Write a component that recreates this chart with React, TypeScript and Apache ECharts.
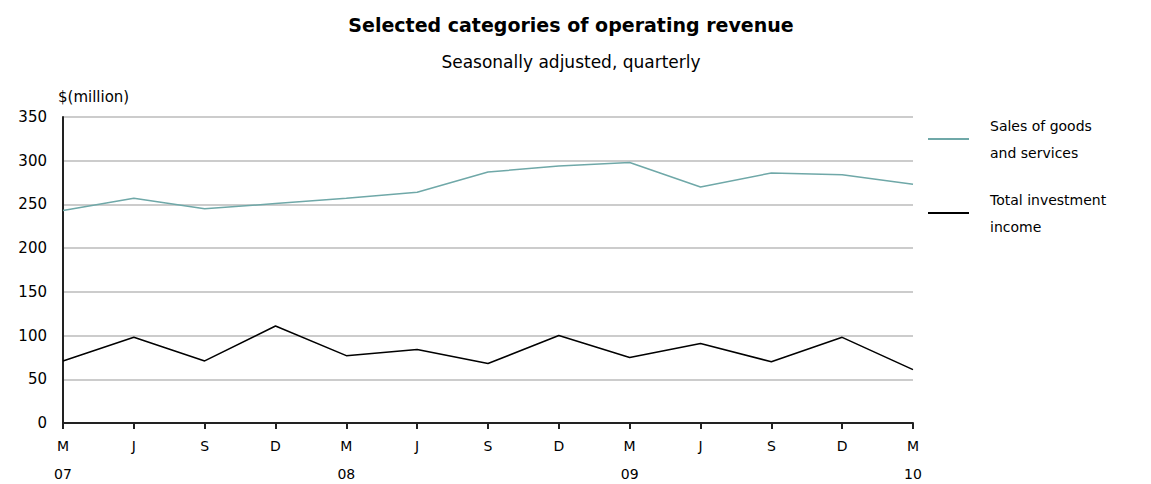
import React, { useEffect, useRef } from "react";
import * as echarts from "echarts";

const categories = ["M", "J", "S", "D", "M", "J", "S", "D", "M", "J", "S", "D", "M"];
const yearLabels = ["07", "", "", "", "08", "", "", "", "09", "", "", "", "10"];
const salesValues = [243, 257, 245, 251, 257, 264, 287, 294, 298, 270, 286, 284, 273];
const investmentValues = [71, 98, 71, 111, 77, 84, 68, 100, 75, 91, 70, 98, 61];
const seriesNames = ["Sales of goods and services", "Total investment income"];
const legendLabels: Record<string, string> = {
  "Sales of goods and services": "Sales of goods\nand services",
  "Total investment income": "Total investment\nincome",
};

export default function App() {
  const ref = useRef<HTMLDivElement>(null);
  useEffect(() => {
    if (!ref.current) return;
    const chart = echarts.init(ref.current, null, { renderer: "svg" });
    const font = "DejaVu Sans";
    chart.setOption({
      animation: false,
      backgroundColor: "#ffffff",
      title: {
        text: "Selected categories of operating revenue",
        subtext: "Seasonally adjusted, quarterly",
        left: 566,
        textAlign: "center",
        top: 10,
        itemGap: 19,
        textStyle: { fontFamily: font, fontSize: 19, fontWeight: "bold", color: "#000" },
        subtextStyle: { fontFamily: font, fontSize: 17, color: "#000" },
      },
      graphic: [
        {
          type: "text",
          left: 58,
          top: 89,
          style: { text: "$(million)", fontFamily: font, fontSize: 15, fill: "#000" },
        },
      ],
      legend: {
        orient: "vertical",
        left: 922,
        top: 107,
        itemWidth: 41,
        itemHeight: 2,
        itemGap: 20,
        data: seriesNames,
        formatter: (name: string) => legendLabels[name] || name,
        textStyle: { fontFamily: font, fontSize: 14, color: "#000", lineHeight: 27, padding: [0, 0, 0, 16] },
      },
      grid: { left: 63, right: 238, top: 117, bottom: 61, containLabel: false, outerBoundsMode: "none" },
      xAxis: {
        type: "category",
        boundaryGap: false,
        data: categories,
        axisLine: { lineStyle: { color: "#222", width: 2 } },
        axisTick: { show: true, length: 6, lineStyle: { color: "#222", width: 2 } },
        axisLabel: {
          interval: 0,
          fontFamily: font,
          fontSize: 14,
          color: "#000",
          lineHeight: 28,
          margin: 9,
          formatter: (v: string, i: number) => (yearLabels[i] ? v + "\n" + yearLabels[i] : v),
          verticalAlign: "top",
        },
        splitLine: { show: false },
      },
      yAxis: {
        type: "value",
        min: 0,
        max: 350,
        interval: 50,
        axisLine: { show: true, lineStyle: { color: "#222", width: 2 } },
        axisTick: { show: false },
        axisLabel: { fontFamily: font, fontSize: 15, color: "#000", margin: 16 },
        splitLine: { lineStyle: { color: "#cccccc", width: 2 } },
      },
      series: [
        {
          name: seriesNames[0],
          type: "line",
          data: salesValues,
          symbol: "none",
          lineStyle: { color: "#6fa8a8", width: 1.5 },
          itemStyle: { color: "#6fa8a8" },
        },
        {
          name: seriesNames[1],
          type: "line",
          data: investmentValues,
          symbol: "none",
          lineStyle: { color: "#000000", width: 1.5 },
          itemStyle: { color: "#000000" },
        },
      ],
    });
    return () => chart.dispose();
  }, []);
  return (
    <div
      ref={ref}
      style={{ position: "fixed", left: 0, top: 0, width: 1151, height: 484, background: "#fff" }}
    />
  );
}
